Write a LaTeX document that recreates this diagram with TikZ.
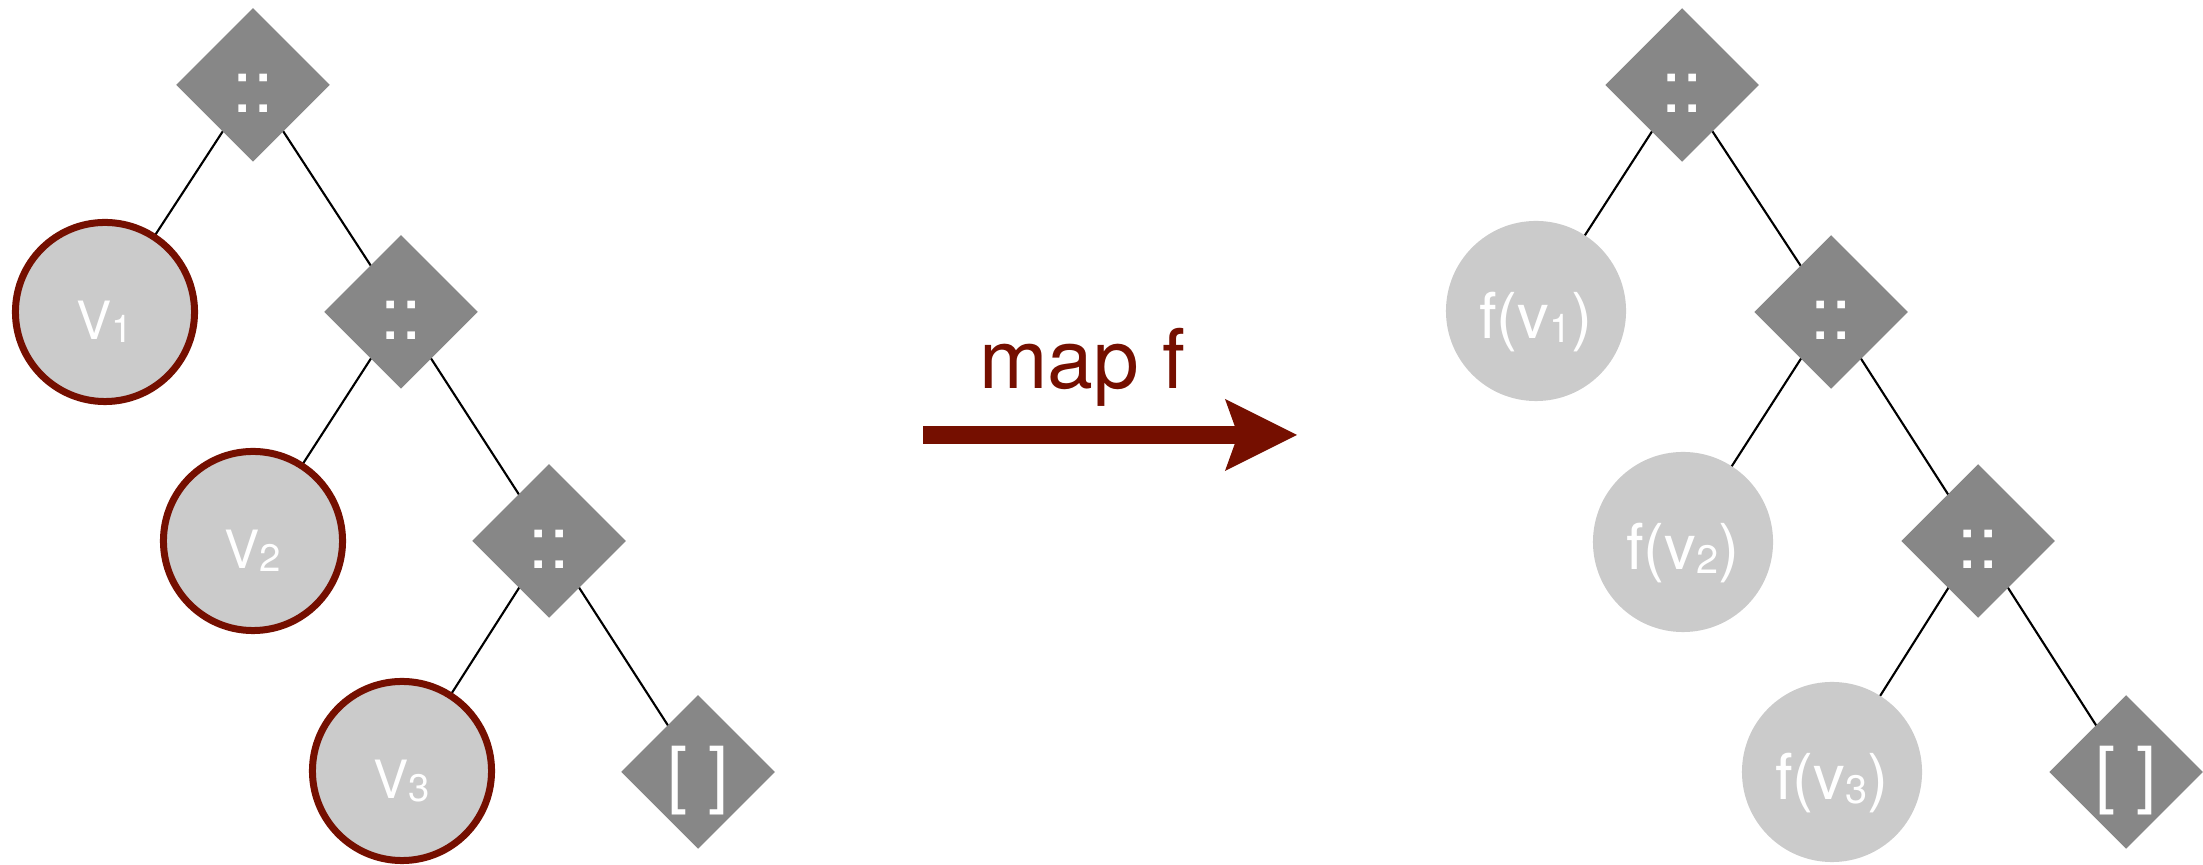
\documentclass[tikz,border=0pt]{standalone}
\usepackage{fontspec}
\setmainfont{TeX Gyre Heros}
\usetikzlibrary{shapes.geometric,arrows.meta,backgrounds}
\definecolor{maproon}{RGB}{117,15,0}
\definecolor{consgray}{RGB}{135,135,135}
\definecolor{valgray}{RGB}{203,203,203}
% subscripts for the element labels
\newcommand{\lsub}[1]{\raisebox{-0.9pt}{\fontsize{10.9pt}{12pt}\selectfont #1}}
\newcommand{\rsub}[1]{\raisebox{-1.4pt}{\fontsize{11.3pt}{13pt}\selectfont #1}}
\begin{document}
\begin{tikzpicture}[x=0.01cm,y=-0.01cm,
  cons/.style={diamond, fill=consgray, inner sep=0pt,
    minimum width=1.54cm, minimum height=1.54cm, text=white,
    font=\fontsize{20.8pt}{24pt}\selectfont, text height=15.4pt, text depth=0pt},
  val/.style={circle, fill=valgray, draw=maproon, line width=0.07cm,
    minimum size=1.79cm, inner sep=0pt, text=white,
    font=\fontsize{15pt}{18pt}\selectfont, text height=15.4pt, text depth=0pt},
  res/.style={circle, fill=valgray, minimum size=1.80cm, inner sep=0pt,
    text=white, font=\fontsize{18pt}{21pt}\selectfont,
    text height=15.4pt, text depth=0pt},
  link/.style={draw=black, line width=0.6pt}]
\useasboundingbox (0,0) rectangle (2203,865);

% input list
\node[cons] (l1) at (253,85) {::};
\node[val]  (lv1) at (105,312) {V\lsub{1}};
\node[cons] (l2) at (401,312) {::};
\node[val]  (lv2) at (253,541) {V\lsub{2}};
\node[cons] (l3) at (549,541) {::};
\node[val]  (lv3) at (402,771) {V\lsub{3}};
\node[cons] (lnil) at (698,772) {[ ]};

% mapped list
\node[cons] (r1) at (1682,85) {::};
\node[res]  (rv1) at (1536,311) {f(v\rsub{1})};
\node[cons] (r2) at (1831,312) {::};
\node[res]  (rv2) at (1683,542) {f(v\rsub{2})};
\node[cons] (r3) at (1978,541) {::};
\node[res]  (rv3) at (1832,772) {f(v\rsub{3})};
\node[cons] (rnil) at (2126,772) {[ ]};

\begin{scope}[on background layer]
  \draw[link] (l1.center) -- (lv1.center);
  \draw[link] (l1.center) -- (l2.center);
  \draw[link] (l2.center) -- (lv2.center);
  \draw[link] (l2.center) -- (l3.center);
  \draw[link] (l3.center) -- (lv3.center);
  \draw[link] (l3.center) -- (lnil.center);
  \draw[link] (r1.center) -- (rv1.center);
  \draw[link] (r1.center) -- (r2.center);
  \draw[link] (r2.center) -- (rv2.center);
  \draw[link] (r2.center) -- (r3.center);
  \draw[link] (r3.center) -- (rv3.center);
  \draw[link] (r3.center) -- (rnil.center);
\end{scope}

% the map arrow
\coordinate (mapfrom) at (923,435);
\coordinate (mapto) at (1297,435);
\draw[maproon, line width=0.18cm,
  -{Stealth[length=0.72cm, width=0.72cm, inset=0.13cm, line width=0pt]}]
  (mapfrom) -- (mapto);
\node[anchor=base, text=maproon, inner sep=0pt,
  font=\fontsize{23.4pt}{28pt}\selectfont] (maplabel) at (1082,389) {map f};
\end{tikzpicture}
\end{document}
